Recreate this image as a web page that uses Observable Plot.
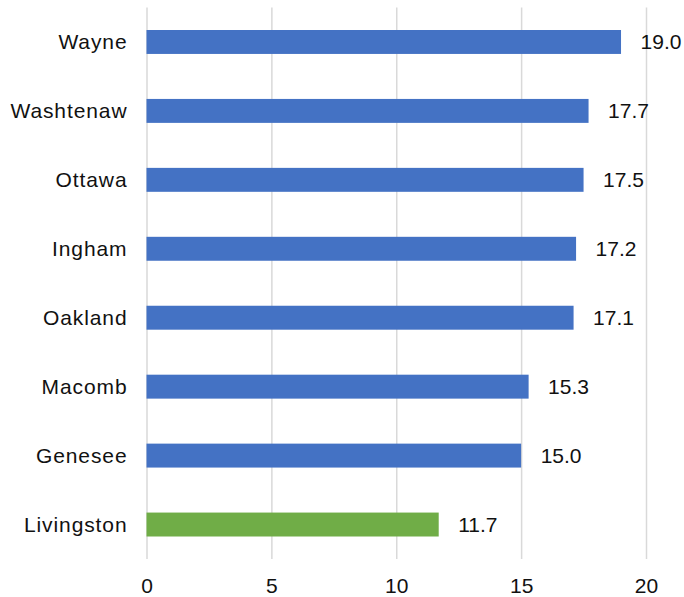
<!DOCTYPE html>
<html>
<head>
<meta charset="utf-8">
<script src="https://cdn.jsdelivr.net/npm/d3@7"></script>
<script src="https://cdn.jsdelivr.net/npm/@observablehq/plot@0.6"></script>
<style>
  html, body { margin: 0; padding: 0; background: #fff; }
  #chart svg { display: block; }
</style>
</head>
<body>
<div id="chart"></div>
<script>
const counties = ["Wayne", "Washtenaw", "Ottawa", "Ingham", "Oakland", "Macomb", "Genesee", "Livingston"];
const values = [19.0, 17.7, 17.5, 17.2, 17.1, 15.3, 15.0, 11.7];
const highlight = ["Livingston"];
const xTicks = [0, 5, 10, 15, 20];

const data = counties.map((c, i) => ({county: c, value: values[i], hl: highlight.includes(c)}));

const chart = Plot.plot({
  width: 684,
  height: 597,
  marginTop: 7.5,
  marginBottom: 38,
  marginLeft: 146.5,
  marginRight: 38,
  style: {fontFamily: "'Liberation Sans', Arial, sans-serif", fontSize: "21px", color: "#111", background: "#fff"},
  x: {domain: [0, 20], ticks: xTicks, tickSize: 0, tickPadding: 18.5, label: null},
  y: {domain: counties, padding: 0, round: false, tickSize: 0, tickPadding: 19.5, label: null},
  marks: [
    Plot.ruleX(xTicks, {stroke: "#d9d9d9", strokeWidth: 1.5}),
    Plot.barX(data, {
      y: "county", x: "value",
      fill: d => d.hl ? "#70AD47" : "#4472C4",
      insetTop: 22.5, insetBottom: 22.5
    }),
    Plot.text(data, {
      y: "county", x: "value",
      text: d => d.value.toFixed(1),
      textAnchor: "start", dx: 19,
      fontSize: 21, fill: "#111"
    })
  ]
});
d3.select(chart).selectAll('g[aria-label="y-axis tick label"] text').style("letter-spacing", "0.9px");
document.getElementById("chart").appendChild(chart);
</script>
</body>
</html>
